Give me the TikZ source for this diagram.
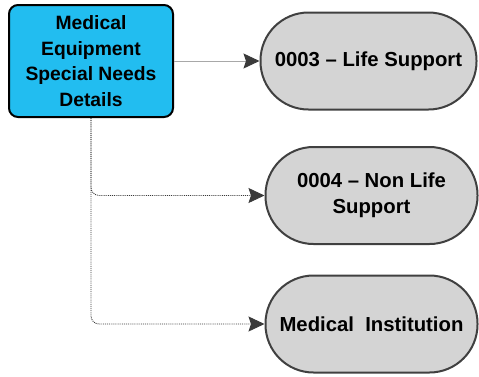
\documentclass[tikz,border=0pt]{standalone}
\usepackage{fontspec}
\setmainfont{Liberation Sans}
\usetikzlibrary{arrows.meta}
\definecolor{boxblue}{HTML}{22BDF0}
\definecolor{pillgray}{HTML}{D4D4D4}
\definecolor{pilledge}{HTML}{404040}
\definecolor{arrowgray}{HTML}{3A3A3A}
\definecolor{solidline}{HTML}{A8A8A8}
\begin{document}
\begin{tikzpicture}[x=1pt,y=-1pt,
  mainbox/.style={draw=black,line width=2pt,fill=boxblue,rounded corners=9pt,
    minimum width=164pt,minimum height=112pt,inner sep=0pt,align=center,
    font=\fontsize{19.3}{25.5}\selectfont\bfseries},
  pill/.style={draw=pilledge,line width=2pt,fill=pillgray,rounded corners=48pt,
    minimum height=97pt,inner sep=0pt,align=center,
    font=\fontsize{20.3}{26}\selectfont\bfseries},
  tip/.style={-{Stealth[length=16pt,width=15pt,inset=2.5pt,fill=arrowgray,color=arrowgray]}},
  solidconn/.style={tip,draw=solidline,line width=1pt},
  dotconn/.style={tip,draw=arrowgray,line width=0.9pt,densely dotted,rounded corners=8pt}]
\useasboundingbox (0,0) rectangle (479,376);
\node[mainbox] (src) at (91,61) {Medical\\Equipment\\Special Needs\\Details};
\node[pill,minimum width=216pt] (p1) at (368.5,61) {0003 -- Life Support};
\node[pill,minimum width=212pt] (p2) at (371.5,195.5) {0004 -- Non Life\\Support};
\node[pill,minimum width=212pt] (p3) at (371.5,324) {Medical\ \ Institution};
\coordinate (j1) at (91,195.5);
\coordinate (j2) at (91,324);
\draw[solidconn] (src.east) -- (p1.west);
\draw[dotconn] (src.south) -- (j1) -- (p2.west);
\draw[dotconn] (src.south) -- (j2) -- (p3.west);
\end{tikzpicture}
\end{document}
